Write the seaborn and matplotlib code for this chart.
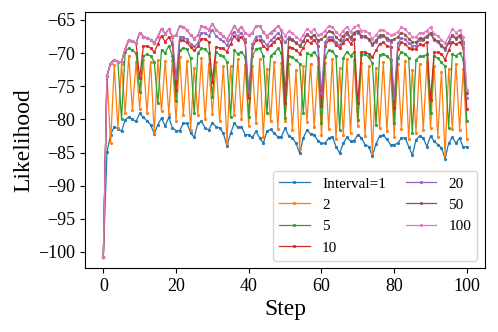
import matplotlib
matplotlib.use("Agg")
import matplotlib.pyplot as plt
import seaborn as sns
import pandas as pd

steps = list(range(101))

labels = ["Interval=1", "2", "5", "10", "20", "50", "100"]

interval_1 = [
    -100.7, -84.9, -82.3, -81.1, -81.4, -81.8, -80.1, -79.6, -80.0, -80.3,
    -79.1, -79.7, -80.2, -80.8, -82.2, -80.8, -79.8, -81.0, -79.7, -81.3,
    -81.7, -81.7, -80.6, -80.6, -82.0, -82.7, -80.6, -80.3, -81.3, -81.6,
    -80.5, -81.1, -81.3, -82.1, -84.0, -82.1, -80.6, -81.2, -81.1, -82.3,
    -82.3, -82.7, -81.8, -82.8, -83.6, -81.8, -81.5, -82.1, -82.6, -82.6,
    -81.3, -82.5, -82.8, -83.6, -85.1, -82.8, -81.6, -82.2, -82.3, -83.2,
    -83.6, -83.6, -82.8, -82.6, -84.1, -85.1, -83.6, -82.7, -83.3, -83.2,
    -82.3, -82.8, -83.8, -84.1, -85.5, -83.7, -82.5, -82.4, -83.0, -83.8,
    -83.8, -83.6, -82.8, -82.8, -84.1, -85.4, -83.1, -82.5, -82.8, -84.1,
    -82.5, -83.3, -83.8, -84.3, -85.9, -83.6, -82.7, -83.6, -82.8, -84.2,
    -84.1,
]

interval_2 = [
    -100.7, -73.4, -83.6, -71.8, -81.3, -71.6, -79.0, -70.4, -78.6, -71.4,
    -78.4, -71.0, -79.0, -71.3, -82.0, -71.0, -78.8, -71.2, -79.2, -71.1,
    -80.2, -70.6, -79.4, -71.2, -81.6, -72.2, -79.3, -70.8, -80.0, -71.6,
    -79.2, -71.4, -80.3, -72.0, -83.5, -72.0, -79.4, -70.9, -80.0, -71.8,
    -81.0, -72.0, -80.6, -70.9, -82.6, -72.4, -80.3, -71.3, -81.4, -71.5,
    -80.2, -71.7, -81.6, -72.6, -84.5, -72.0, -80.4, -71.6, -81.2, -72.1,
    -82.4, -71.5, -81.5, -70.9, -83.0, -72.3, -82.3, -70.9, -82.0, -71.0,
    -81.0, -71.5, -82.5, -72.0, -85.0, -72.3, -81.3, -71.3, -81.8, -72.2,
    -82.6, -71.6, -81.5, -71.2, -83.0, -72.6, -82.0, -71.7, -81.6, -71.4,
    -81.3, -72.0, -82.6, -72.9, -85.4, -72.4, -81.5, -71.6, -81.6, -72.4,
    -83.0,
]

interval_5 = [
    -100.7, -73.4, -71.5, -71.0, -71.3, -80.0, -69.8, -69.3, -69.6, -70.0,
    -75.8, -70.4, -70.2, -70.4, -71.3, -77.6, -69.5, -70.0, -68.9, -70.4,
    -77.2, -69.6, -69.2, -69.4, -70.8, -79.1, -70.0, -69.3, -69.4, -70.0,
    -76.6, -69.8, -70.3, -70.5, -71.3, -79.6, -69.6, -70.1, -69.8, -70.6,
    -79.6, -70.4, -69.4, -69.3, -70.4, -79.1, -70.4, -70.0, -69.3, -70.0,
    -79.8, -70.5, -70.6, -71.1, -71.6, -79.0, -70.0, -70.3, -69.8, -70.7,
    -80.6, -70.6, -69.6, -69.7, -70.5, -81.6, -70.7, -69.8, -70.4, -69.9,
    -80.1, -70.3, -70.2, -70.6, -71.5, -80.8, -70.3, -70.1, -70.5, -71.0,
    -80.6, -70.8, -69.8, -70.1, -70.7, -82.1, -71.0, -70.5, -70.5, -70.2,
    -79.1, -70.4, -70.8, -71.4, -72.0, -81.3, -70.2, -70.4, -70.0, -70.9,
    -80.3,
]

interval_10 = [
    -100.7, -73.4, -71.5, -71.0, -71.3, -71.3, -69.4, -68.0, -68.2, -68.5,
    -73.8, -69.0, -68.9, -69.2, -69.9, -68.6, -67.4, -68.3, -67.6, -68.6,
    -75.6, -68.0, -68.1, -68.4, -69.1, -69.6, -69.0, -67.8, -67.9, -68.3,
    -74.3, -69.1, -69.2, -69.3, -69.8, -68.6, -67.4, -68.1, -67.5, -68.4,
    -76.8, -69.2, -68.1, -68.0, -68.9, -69.4, -68.8, -68.3, -67.7, -68.3,
    -77.6, -69.1, -69.2, -69.6, -70.1, -69.2, -68.1, -68.5, -68.0, -68.9,
    -78.0, -69.0, -68.0, -68.0, -68.8, -69.2, -68.5, -67.8, -68.6, -67.9,
    -77.6, -69.8, -69.9, -70.1, -70.6, -69.6, -68.6, -68.4, -68.9, -69.1,
    -78.3, -69.4, -68.4, -68.6, -69.2, -69.4, -69.4, -68.7, -68.8, -68.3,
    -77.1, -69.9, -69.9, -70.1, -71.0, -69.6, -68.3, -68.7, -68.3, -69.2,
    -78.4,
]

interval_20 = [
    -100.7, -73.4, -71.5, -71.0, -71.3, -71.3, -69.4, -68.0, -68.2, -68.5,
    -66.9, -67.5, -67.7, -68.0, -68.5, -67.5, -66.3, -67.1, -66.4, -67.5,
    -73.8, -67.5, -67.6, -67.9, -68.6, -69.0, -68.5, -66.9, -67.0, -67.4,
    -66.5, -67.4, -67.9, -68.2, -68.8, -67.8, -66.8, -67.5, -66.9, -67.9,
    -75.8, -68.6, -67.5, -67.4, -68.2, -68.8, -68.1, -67.6, -67.0, -67.5,
    -68.4, -67.6, -67.9, -68.4, -68.9, -68.2, -67.2, -67.7, -67.3, -68.2,
    -76.0, -68.3, -67.6, -67.6, -68.4, -68.8, -68.0, -67.1, -67.9, -67.1,
    -66.9, -67.6, -67.6, -68.0, -68.8, -68.3, -67.5, -67.4, -68.0, -68.3,
    -76.8, -68.5, -67.7, -67.9, -68.5, -68.9, -68.9, -68.0, -68.0, -67.6,
    -67.1, -68.1, -68.4, -69.0, -69.5, -68.5, -67.4, -67.9, -67.5, -68.6,
    -76.7,
]

interval_50 = [
    -100.7, -73.4, -71.5, -71.0, -71.3, -71.3, -69.4, -68.0, -68.2, -68.5,
    -66.9, -67.5, -67.7, -68.0, -68.5, -67.5, -66.3, -67.1, -66.4, -67.5,
    -67.3, -65.9, -66.1, -66.5, -67.3, -67.8, -67.3, -65.9, -66.1, -66.5,
    -65.6, -66.5, -67.0, -67.4, -68.0, -67.0, -65.9, -66.6, -66.0, -67.0,
    -67.3, -67.0, -65.9, -65.9, -66.8, -67.5, -66.9, -66.5, -65.9, -66.5,
    -76.0, -67.8, -68.1, -68.5, -68.9, -68.2, -67.1, -67.6, -67.2, -68.1,
    -67.9, -67.4, -66.7, -66.8, -67.6, -68.1, -67.4, -66.8, -67.6, -66.9,
    -66.6, -67.4, -67.4, -67.8, -68.6, -68.1, -67.3, -67.3, -67.7, -68.1,
    -67.9, -67.6, -66.9, -67.2, -67.8, -68.3, -68.4, -67.7, -67.8, -67.4,
    -66.9, -67.9, -68.2, -68.8, -69.3, -68.3, -67.2, -67.7, -67.3, -68.4,
    -76.0,
]

interval_100 = [
    -100.7, -73.4, -71.5, -71.0, -71.3, -71.3, -69.4, -68.0, -68.2, -68.5,
    -66.9, -67.5, -67.7, -68.0, -68.5, -67.5, -66.3, -67.1, -66.4, -67.5,
    -67.3, -65.9, -66.1, -66.5, -67.3, -67.8, -67.3, -65.9, -66.1, -66.5,
    -65.6, -66.5, -67.0, -67.4, -68.0, -67.0, -65.9, -66.6, -66.0, -67.0,
    -67.3, -67.0, -65.9, -65.9, -66.8, -67.5, -66.9, -66.5, -65.9, -66.5,
    -67.4, -66.7, -67.0, -67.5, -68.0, -67.3, -66.3, -66.8, -66.4, -67.3,
    -67.1, -66.6, -65.9, -66.0, -66.8, -67.3, -66.6, -66.0, -66.8, -66.1,
    -65.8, -66.6, -66.6, -67.0, -67.8, -67.3, -66.5, -66.5, -66.9, -67.3,
    -67.1, -66.8, -66.1, -66.4, -67.0, -67.5, -67.6, -66.9, -67.0, -66.6,
    -66.1, -67.1, -67.4, -68.0, -68.5, -67.5, -66.4, -66.9, -66.5, -67.6,
    -75.6,
]

series = [interval_1, interval_2, interval_5, interval_10,
          interval_20, interval_50, interval_100]

plt.rcParams["font.family"] = ["Liberation Serif", "DejaVu Serif"]
plt.rcParams["mathtext.fontset"] = "stix"

fig, ax = plt.subplots(figsize=(4.98, 3.32), dpi=100)
fig.subplots_adjust(left=0.171, right=0.974, top=0.963, bottom=0.192)

colors = sns.color_palette("tab10")
for i, (lab, vals) in enumerate(zip(labels, series)):
    df = pd.DataFrame({"Step": steps, "Likelihood": vals})
    sns.lineplot(data=df, x="Step", y="Likelihood", ax=ax, color=colors[i],
                 marker=".", markersize=4, linewidth=0.9, label=lab,
                 markeredgecolor=colors[i], markeredgewidth=0.3)

ax.set_xlabel("Step", fontsize=17, labelpad=3)
ax.set_ylabel("Likelihood", fontsize=17, labelpad=3)
ax.tick_params(labelsize=13)
ax.set_xticks([0, 20, 40, 60, 80, 100])
ax.set_yticks([-100, -95, -90, -85, -80, -75, -70, -65])

ax.legend(loc="lower right", ncol=2, fontsize=11, handlelength=2.0,
          columnspacing=1.3, labelspacing=0.5, handletextpad=0.8)

fig.savefig("out.png", dpi=100)
